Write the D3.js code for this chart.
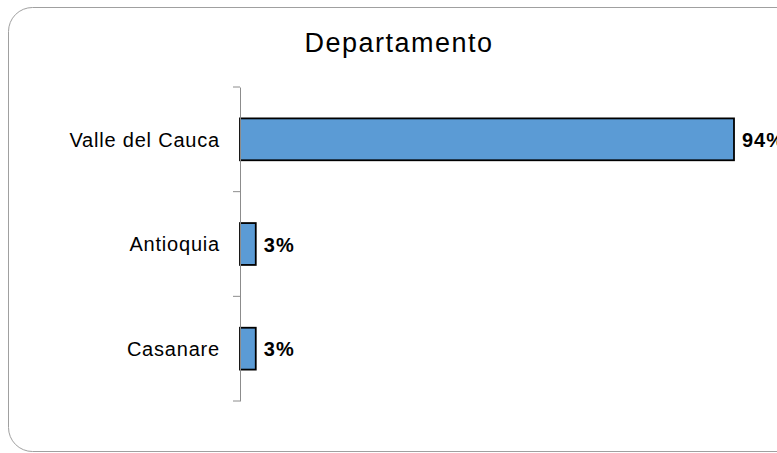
<!DOCTYPE html>
<html>
<head>
<meta charset="utf-8">
<script src="https://cdn.jsdelivr.net/npm/d3@7"></script>
<style>
  body { margin: 0; background: #fff; }
  text { font-family: "Liberation Sans", Arial, sans-serif; }
</style>
</head>
<body>
<script>
const width = 777;
const height = 453;

const categories = ['Valle del Cauca', 'Antioquia', 'Casanare'];
const values = [0.94, 0.03, 0.03];
const labels = ['94%', '3%', '3%'];

const svg = d3.create('svg')
  .attr('width', width)
  .attr('height', height);

document.body.appendChild(svg.node());

// frame
svg.append('rect')
  .attr('x', 8.5).attr('y', 7.5)
  .attr('width', 800).attr('height', 444)
  .attr('rx', 24).attr('ry', 24)
  .attr('fill', '#fff')
  .attr('stroke', '#a0a0a0')
  .attr('stroke-width', 1);

svg.append('text')
  .attr('x', 399).attr('y', 52)
  .attr('text-anchor', 'middle')
  .attr('font-size', 27)
  .attr('letter-spacing', 1.5)
  .text('Departamento');

const x = d3.scaleLinear().domain([0, 0.94]).range([240, 734]);
const y = d3.scaleBand().domain(categories).range([87, 401]).paddingInner(0.6).paddingOuter(0.3);

// bars
svg.selectAll('.bar')
  .data(categories)
  .enter().append('rect')
  .attr('class', 'bar')
  .attr('x', x(0))
  .attr('y', d => y(d))
  .attr('width', (d, i) => x(values[i]) - x(0))
  .attr('height', y.bandwidth())
  .attr('fill', '#5b9bd5')
  .attr('stroke', '#000')
  .attr('stroke-width', 1.8);

// axis
const axis = d3.axisLeft(y).tickSize(0).tickPadding(20);
const g = svg.append('g').attr('transform', `translate(${x(0)},0)`).call(axis);
g.select('.domain').attr('stroke', '#8c8c8c');
g.selectAll('.tick text')
  .attr('font-size', 20)
  .attr('letter-spacing', 0.8)
  .attr('dy', '0.36em')
  .attr('fill', '#000')
  .style('font-family', '"Liberation Sans", Arial, sans-serif');

// ticks at band boundaries
const step = (401 - 87) / categories.length;
svg.selectAll('.btick')
  .data(d3.range(categories.length + 1))
  .enter().append('line')
  .attr('x1', x(0) - 7).attr('x2', x(0))
  .attr('y1', i => 87 + i * step)
  .attr('y2', i => 87 + i * step)
  .attr('stroke', '#8c8c8c');

// value labels
svg.selectAll('.lbl')
  .data(categories)
  .enter().append('text')
  .attr('x', (d, i) => x(values[i]) + 8)
  .attr('y', d => y(d) + y.bandwidth() / 2)
  .attr('dy', '0.38em')
  .attr('font-size', 20)
  .attr('letter-spacing', 1)
  .attr('font-weight', 'bold')
  .text((d, i) => labels[i]);
</script>
</body>
</html>
